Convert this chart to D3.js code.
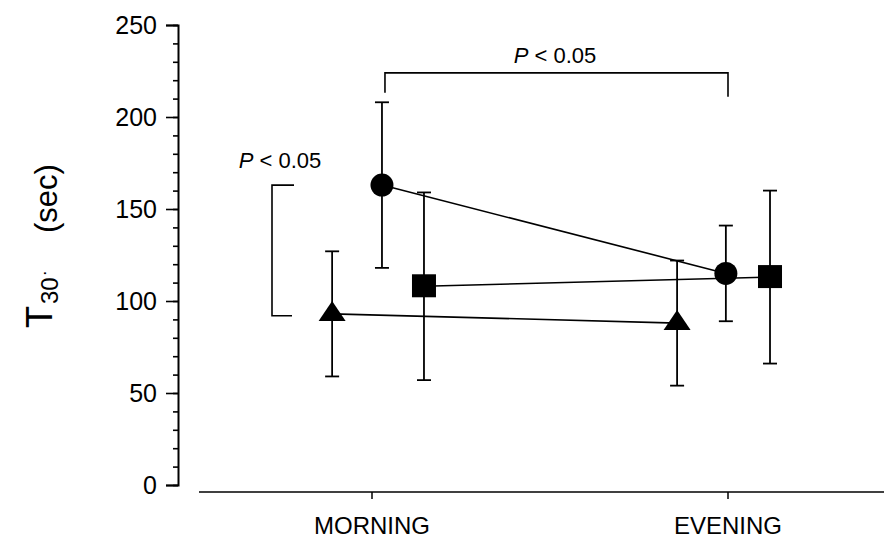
<!DOCTYPE html>
<html>
<head>
<meta charset="utf-8">
<script src="https://cdn.jsdelivr.net/npm/d3@7"></script>
<style>
  html, body { margin: 0; padding: 0; background: #fff; }
  svg { display: block; font-family: "Liberation Sans", Arial, sans-serif; }
</style>
</head>
<body>
<svg id="chart" width="884" height="545"></svg>
<script>
// ---- data ----
const categories = ["MORNING", "EVENING"];
const circleMean = [163, 115];
const circleErr = [45, 26];
const squareMean = [108, 113];
const squareErr = [51, 47];
const triangleMean = [93, 88];
const triangleErr = [34, 34];
const yTicks = [0, 50, 100, 150, 200, 250];
const yMinorTicks = d3.range(0, 251, 10);
const pLabel = "P < 0.05";

// ---- layout ----
const W = 884, H = 545;
const svg = d3.select("#chart");
const y = d3.scaleLinear().domain([0, 250]).range([485, 25]);
const x = d3.scaleLinear().domain([0, 1]).range([372, 728]);
const axisX = 178;
const xAxisY = 492;

// horizontal dodge of each series at each category (category units)
const dodge = {
  triangle: [-0.112, -0.143],
  circle: [0.028, -0.006],
  square: [0.146, 0.118]
};

const series = [
  { key: "triangle", mean: triangleMean, err: triangleErr },
  { key: "square", mean: squareMean, err: squareErr },
  { key: "circle", mean: circleMean, err: circleErr }
];

// ---- y axis ----
const gy = svg.append("g").attr("transform", `translate(${axisX},0)`);
gy.call(d3.axisLeft(y).tickValues(yMinorTicks).tickSize(5).tickFormat(""))
  .call(g => g.select(".domain").remove());
gy.append("g").call(d3.axisLeft(y).tickValues(yTicks).tickSize(12).tickPadding(9).tickFormat(d3.format("d")))
  .call(g => g.selectAll("text").attr("font-size", 25).attr("font-family", "Liberation Sans, Arial, sans-serif").attr("fill", "#000"));
gy.selectAll("line").attr("stroke", "#000").attr("stroke-width", 1.6);
gy.selectAll(".domain").attr("stroke", "#000").attr("stroke-width", 2);

// ---- x axis ----
const xAxisG = svg.append("g").attr("transform", `translate(0,${xAxisY})`);
xAxisG.append("line").attr("x1", 199).attr("x2", W).attr("y1", 0).attr("y2", 0)
  .attr("stroke", "#000").attr("stroke-width", 1.6);
xAxisG.selectAll("line.tick").data(categories).join("line")
  .attr("class", "tick")
  .attr("x1", (d, i) => x(i)).attr("x2", (d, i) => x(i))
  .attr("y1", 0).attr("y2", 7)
  .attr("stroke", "#000").attr("stroke-width", 1.5);
xAxisG.selectAll("text").data(categories).join("text")
  .attr("x", (d, i) => x(i)).attr("y", 42)
  .attr("text-anchor", "middle").attr("font-size", 24).attr("fill", "#000")
  .text(d => d);

// ---- y axis title ----
const t1 = svg.append("text")
  .attr("transform", "translate(52,328) rotate(-90)")
  .attr("text-anchor", "start").attr("fill", "#000");
t1.append("tspan").attr("font-size", 36).text("T");
t1.append("tspan").attr("font-size", 24).attr("dy", 6).attr("dx", 2).text("30");
t1.append("tspan").attr("font-size", 18).attr("dy", -8).attr("dx", 1).text("\u00B7");
svg.append("text")
  .attr("transform", "translate(57,233) rotate(-90)")
  .attr("text-anchor", "start").attr("font-size", 31).attr("fill", "#000")
  .text("(sec)");

// ---- series ----
const px = (s, i) => x(i + dodge[s.key][i]);

const lineGen = d3.line().x(d => d[0]).y(d => d[1]);
series.forEach(s => {
  const pts = categories.map((c, i) => [px(s, i), y(s.mean[i])]);
  svg.append("path").attr("d", lineGen(pts)).attr("fill", "none")
    .attr("stroke", "#000").attr("stroke-width", 1.6);
});

// error bars
const capHalf = 7;
series.forEach(s => {
  categories.forEach((c, i) => {
    const cx = px(s, i);
    const top = y(s.mean[i] + s.err[i]);
    const bot = y(s.mean[i] - s.err[i]);
    const g = svg.append("g").attr("stroke", "#000").attr("stroke-width", 1.8);
    g.append("line").attr("x1", cx).attr("x2", cx).attr("y1", top).attr("y2", bot);
    g.append("line").attr("x1", cx - capHalf).attr("x2", cx + capHalf).attr("y1", top).attr("y2", top);
    g.append("line").attr("x1", cx - capHalf).attr("x2", cx + capHalf).attr("y1", bot).attr("y2", bot);
  });
});

// markers
series.forEach(s => {
  categories.forEach((c, i) => {
    const cx = px(s, i), cy = y(s.mean[i]);
    if (s.key === "circle") {
      svg.append("circle").attr("cx", cx).attr("cy", cy).attr("r", 11.5).attr("fill", "#000");
    } else if (s.key === "square") {
      svg.append("rect").attr("x", cx - 12).attr("y", cy - 12).attr("width", 24).attr("height", 23).attr("fill", "#000");
    } else {
      svg.append("path").attr("d", `M${cx},${cy - 13}L${cx + 13.5},${cy + 7}L${cx - 13.5},${cy + 7}Z`).attr("fill", "#000");
    }
  });
});

// ---- significance brackets ----
const br = svg.append("g").attr("stroke", "#000").attr("stroke-width", 1.6).attr("fill", "none");
// left bracket: morning circle vs morning triangle
const lbx = x(0) - 100;
br.append("path").attr("d",
  `M${lbx + 22},${y(circleMean[0])}H${lbx}V${y(triangleMean[0] - 1)}H${lbx + 20}`);
// top bracket: morning circle vs evening circle
const tby = y(224);
br.append("path").attr("d",
  `M${px(series[2], 0) + 3},${tby + 20}V${tby}H${x(1)}V${tby + 24}`);

function pText(tx, ty) {
  const t = svg.append("text").attr("x", tx).attr("y", ty).attr("text-anchor", "middle")
    .attr("font-size", 22).attr("fill", "#000");
  t.append("tspan").attr("font-style", "italic").text(pLabel.slice(0, 1));
  t.append("tspan").text(pLabel.slice(1));
}
pText(lbx + 8, 168);
pText((px(series[2], 0) + x(1)) / 2 + 0, 63);
</script>
</body>
</html>
